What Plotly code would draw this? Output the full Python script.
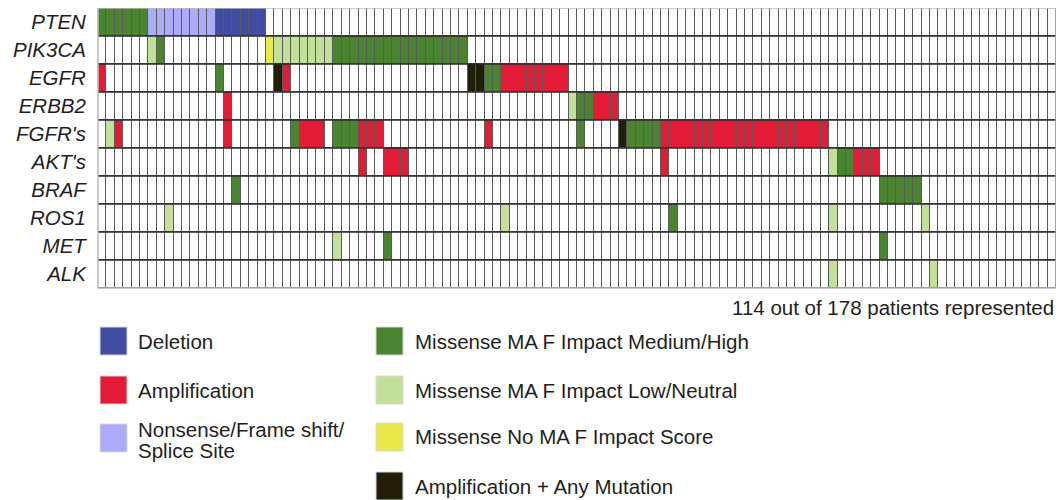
import plotly.graph_objects as go

# ---------------- data ----------------
genes = ["PTEN", "PIK3CA", "EGFR", "ERBB2", "FGFR's", "AKT's", "BRAF", "ROS1", "MET", "ALK"]
n_patients = 114
footnote = "114 out of 178 patients represented"

# alteration codes
categories = ["None", "Deletion", "Amplification", "Nonsense/Frame shift/<br>Splice Site",
              "Missense MA F Impact Medium/High", "Missense MA F Impact Low/Neutral",
              "Missense No MA F Impact Score", "Amplification + Any Mutation"]
colors = ["#ffffff", "#404da0", "#e31b37", "#acacfa", "#4a8430", "#c3e09b", "#e9e94c", "#221f08"]

# runs per gene: (code, first patient column, last patient column)
PTEN = [(4, 0, 5), (3, 6, 13), (1, 14, 19)]
PIK3CA = [(5, 6, 6), (4, 7, 7), (6, 20, 20), (5, 21, 27), (4, 28, 43)]
EGFR = [(2, 0, 0), (4, 14, 14), (7, 21, 21), (2, 22, 22), (7, 44, 45), (4, 46, 47), (2, 48, 55)]
ERBB2 = [(2, 15, 15), (5, 56, 56), (4, 57, 58), (2, 59, 61)]
FGFRs = [(5, 1, 1), (2, 2, 2), (2, 15, 15), (4, 23, 23), (2, 24, 26), (4, 28, 30), (2, 31, 33),
         (2, 46, 46), (4, 57, 57), (7, 62, 62), (4, 63, 66), (2, 67, 86)]
AKTs = [(2, 31, 31), (2, 34, 36), (2, 67, 67), (5, 87, 87), (4, 88, 89), (2, 90, 92)]
BRAF = [(4, 16, 16), (4, 93, 97)]
ROS1 = [(5, 8, 8), (5, 48, 48), (4, 68, 68), (5, 87, 87), (5, 98, 98)]
MET = [(5, 28, 28), (4, 34, 34), (4, 93, 93)]
ALK = [(5, 87, 87), (5, 99, 99)]

gene_runs = [PTEN, PIK3CA, EGFR, ERBB2, FGFRs, AKTs, BRAF, ROS1, MET, ALK]

z = []
for runs in gene_runs:
    row = [0] * n_patients
    for code, a, b in runs:
        for i in range(a, b + 1):
            row[i] = code
    z.append(row)

# ---------------- figure ----------------
ncat = len(colors)
cscale = []
for i, c in enumerate(colors):
    cscale.append([i / ncat, c])
    cscale.append([(i + 1) / ncat, c])

fig = go.Figure(go.Heatmap(
    z=z, x=list(range(n_patients)), y=genes,
    zmin=-0.5, zmax=ncat - 0.5, colorscale=cscale, showscale=False,
    xgap=1, ygap=1, hoverinfo="skip"))

# page body has an 8px margin; figure is sized/offset accordingly
OFF = 8
W, H = 1056, 492
PL, PR, PT, PB = 98, 1056, 8, 288          # plot area in page pixels
L, T = PL - OFF, PT - OFF
R = W - (PR - OFF)
B = H - (PB - OFF)
pw, ph = PR - PL, PB - PT

def px(x):
    return (x - PL) / pw

def py(y):
    return (PB - y) / ph

shapes = []
# horizontal separators between genes
for k in range(1, len(genes)):
    shapes.append(dict(type="line", xref="x", yref="y", x0=-0.5, x1=n_patients - 0.5,
                       y0=k - 0.5, y1=k - 0.5, line=dict(color="#2a2a2a", width=1.6), layer="above"))
# outer frame
shapes.append(dict(type="rect", xref="paper", yref="paper", x0=0, x1=1, y0=0, y1=1,
                   line=dict(color="#b8b8b8", width=1.5), layer="above"))

annotations = []
# legend
legend_cols = [
    (100, 136, [1, 2, 3], [327, 376, 424]),
    (376, 413, [4, 5, 6, 7], [327, 376, 423, 472]),
]
for sx, tx, codes, ys in legend_cols:
    for code, y0 in zip(codes, ys):
        shapes.append(dict(type="rect", xref="paper", yref="paper",
                           x0=px(sx), x1=px(sx + 27), y0=py(y0), y1=py(y0 + 28),
                           fillcolor=colors[code], line=dict(color="#d8d8d8", width=1)))
        lines = categories[code].split("<br>")
        if len(lines) == 1:
            centers = [y0 + 14]
        else:
            centers = [y0 + 5 + 21 * j for j in range(len(lines))]
        for txt, ty in zip(lines, centers):
            annotations.append(dict(xref="paper", yref="paper", x=px(tx), y=py(ty),
                                    xanchor="left", yanchor="middle", showarrow=False,
                                    text=txt, align="left",
                                    font=dict(size=20.5, color="#1e1e1e")))

annotations.append(dict(xref="paper", yref="paper", x=px(1056), y=py(307),
                        xanchor="right", yanchor="middle", showarrow=False,
                        text=footnote, font=dict(size=20.5, color="#1e1e1e")))

fig.update_layout(
    width=W, height=H,
    margin=dict(l=L, r=R, t=T, b=B, pad=0),
    paper_bgcolor="white", plot_bgcolor="#5a5a5a",
    font=dict(family="Liberation Sans, Arial, sans-serif", color="#1e1e1e"),
    shapes=shapes, annotations=annotations,
    xaxis=dict(range=[-0.5, n_patients - 0.5], showticklabels=False, showgrid=False,
               zeroline=False, ticks="", fixedrange=True),
    yaxis=dict(autorange="reversed", showgrid=False, zeroline=False,
               ticks="outside", ticklen=7, tickcolor="rgba(0,0,0,0)",
               tickfont=dict(size=20.5, style="italic", color="#1e1e1e")),
)

fig.write_html("out.html")
